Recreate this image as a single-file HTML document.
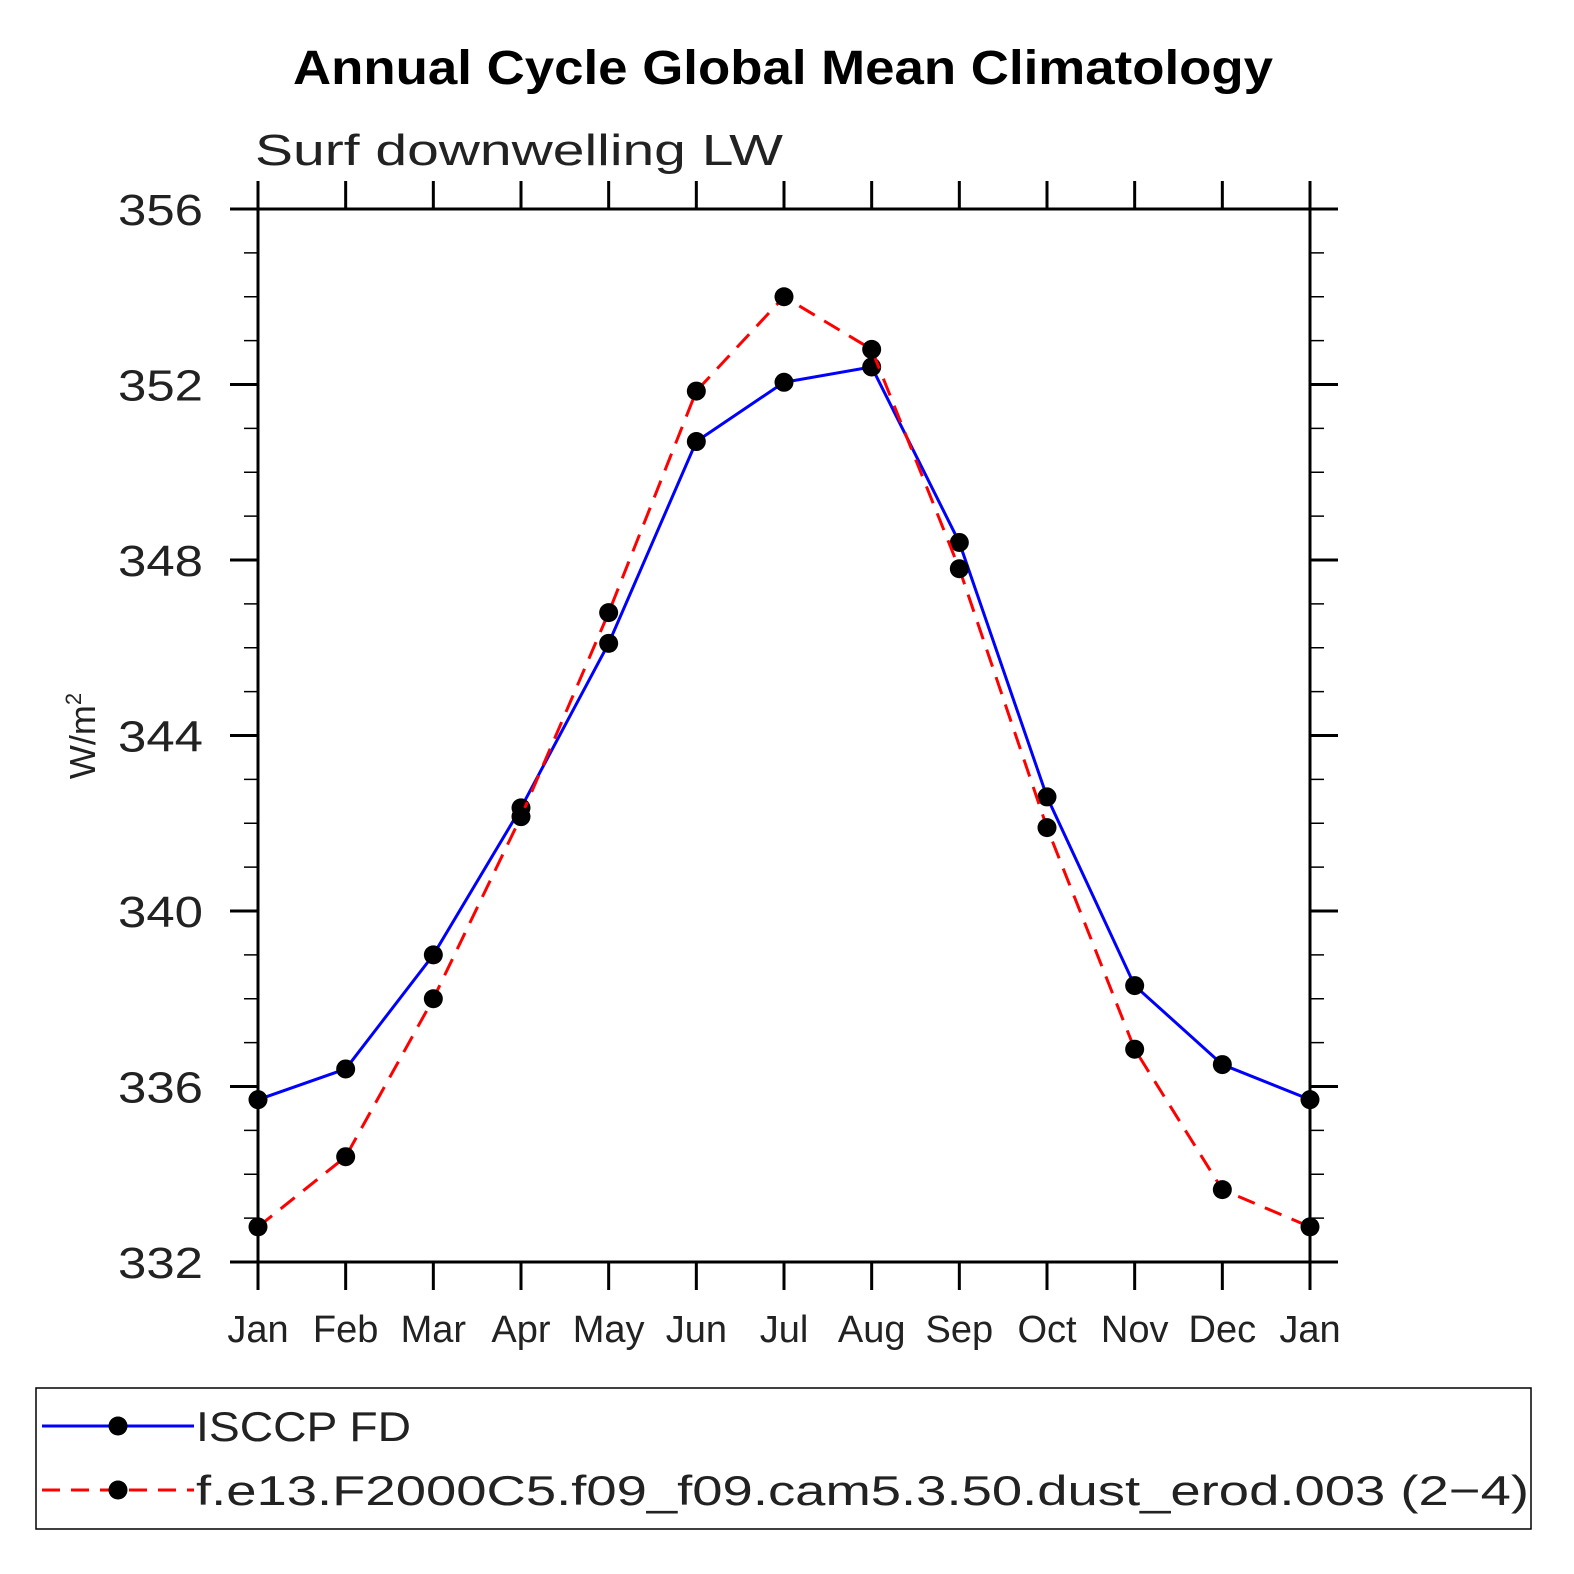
<!DOCTYPE html>
<html><head><meta charset="utf-8"><style>
html,body{margin:0;padding:0;background:#fff;}
svg{display:block;font-family:"Liberation Sans",sans-serif;}
</style></head><body>
<svg id="chart" width="1574" height="1574" viewBox="0 0 1574 1574">
<text x="783" y="84" text-anchor="middle" font-size="48" font-weight="bold" textLength="980" lengthAdjust="spacingAndGlyphs">Annual Cycle Global Mean Climatology</text>
<text x="255" y="165" font-size="44" fill="#222" textLength="528" lengthAdjust="spacingAndGlyphs">Surf  downwelling  LW</text>
<text transform="translate(95,736) rotate(-90)" text-anchor="middle" font-size="36" fill="#222">W/m<tspan dy="-14" font-size="22">2</tspan></text>
<g id="axes"></g>
<g id="series"></g>
<g id="legend"></g>
</svg>
<script>
const months = ["Jan","Feb","Mar","Apr","May","Jun","Jul","Aug","Sep","Oct","Nov","Dec","Jan"];
const isccpValues = [335.7,336.4,339.0,342.35,346.1,350.7,352.05,352.4,348.4,342.6,338.3,336.5,335.7];
const modelValues = [332.8,334.4,338.0,342.15,346.8,351.85,354.0,352.8,347.8,341.9,336.85,333.65,332.8];
const yTicks = [332,336,340,344,348,352,356];
const yMin = 332, yMax = 356;

const NS = "http://www.w3.org/2000/svg";
const L = 258, R = 1310, T = 209, B = 1262;
function xs(i){ return L + (R-L)*i/(months.length-1); }
function ys(v){ return B - (B-T)*(v-yMin)/(yMax-yMin); }
function mk(tag, attrs, parent){
  const e = document.createElementNS(NS, tag);
  for (const k in attrs) e.setAttribute(k, attrs[k]);
  parent.appendChild(e); return e;
}
const axes = document.getElementById('axes');
const frame = mk('rect',{x:L,y:T,width:R-L,height:B-T,fill:'none',stroke:'#000','stroke-width':3},axes);


for (let v=yMin; v<=yMax; v++){
  const y = ys(v);
  const major = (v%4===0);
  const len = major?28:14;
  const w = major?3:1.5;
  const t1 = mk('line',{x1:L-len,x2:L,y1:y,y2:y,stroke:'#000','stroke-width':w},axes);
  
  
  const t2 = mk('line',{x1:R,x2:R+len,y1:y,y2:y,stroke:'#000','stroke-width':w},axes);
  
  
}
yTicks.forEach(v=>{
  const t = mk('text',{x:118,y:ys(v)+16,'font-size':44,fill:'#222',textLength:85,lengthAdjust:'spacingAndGlyphs'},axes);
  t.textContent = v;
  
  
});
months.forEach((m,i)=>{
  const x = xs(i);
  const a = mk('line',{x1:x,x2:x,y1:B,y2:B+28,stroke:'#000','stroke-width':3},axes);
  
  
  const b = mk('line',{x1:x,x2:x,y1:T-28,y2:T,stroke:'#000','stroke-width':3},axes);
  
  
  const t = mk('text',{x:x,y:1342,'text-anchor':'middle','font-size':38,fill:'#222'},axes);
  t.textContent = m;
  
  
});
const series = document.getElementById('series');
function drawSeries(vals,color,dash,name){
  const pts = vals.map((v,i)=>xs(i)+','+ys(v)).join(' ');
  const attrs = {points:pts,fill:'none',stroke:color,'stroke-width':3};
  if (dash) attrs['stroke-dasharray']=dash;
  const pl = mk('polyline',attrs,series);
  
  
  vals.forEach((v,i)=>{
    const c = mk('circle',{cx:xs(i),cy:ys(v),r:9.5,fill:'#000'},series);
    
    
  });
}
drawSeries(isccpValues,'#00f',null,'isccp-fd');
drawSeries(modelValues,'#f00','18,11','model');
const lg = document.getElementById('legend');
const box = mk('rect',{x:36,y:1388,width:1495,height:141,fill:'none',stroke:'#000','stroke-width':1.5},lg);


const entries = [
  {label:'ISCCP FD',color:'#00f',dash:null,y:1426,w:215,name:'legend-entry-isccp'},
  {label:'f.e13.F2000C5.f09_f09.cam5.3.50.dust_erod.003 (2\u22124)',color:'#f00',dash:'18,11',y:1490,w:1333,name:'legend-entry-model'}
];
entries.forEach(e=>{
  const g = mk('g',{},lg);
  
  
  const la = {x1:42,x2:194,y1:e.y,y2:e.y,stroke:e.color,'stroke-width':3};
  if (e.dash) la['stroke-dasharray']=e.dash;
  mk('line',la,g);
  mk('circle',{cx:118,cy:e.y,r:9.5,fill:'#000'},g);
  const t = mk('text',{x:196,y:e.y+15,'font-size':42,fill:'#222',textLength:e.w,lengthAdjust:'spacingAndGlyphs'},g);
  t.textContent = e.label;
});
</script>
</body></html>
